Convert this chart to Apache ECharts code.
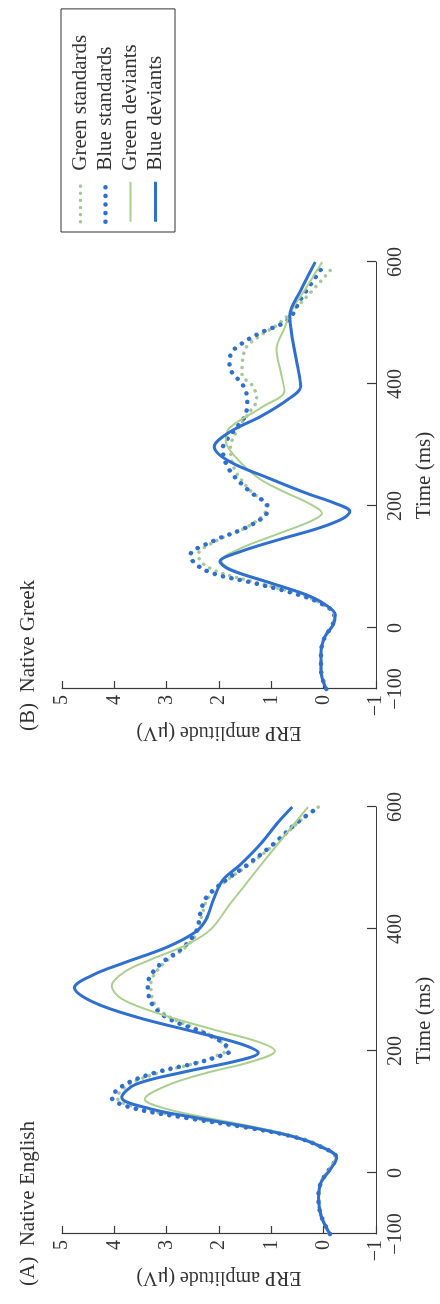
<!DOCTYPE html>
<html lang="en">
<head>
    <meta charset="UTF-8">
    <title>ERP amplitude</title>
    <style>
        * {
            margin: 0;
            padding: 0;
        }

        body {
            width: 440px;
            height: 1304px;
            overflow: hidden;
            background: #fff;
        }

        /* chart drawn landscape, then turned a quarter to the left like the printed page */
        #main {
            position: absolute;
            left: 0;
            top: 0;
            width: 1304px;
            height: 440px;
            transform-origin: 0 0;
            transform: translate(0, 1304px) rotate(-90deg);
        }
    </style>
</head>
<body>
    <div id="main"></div>
</body>
<script src="https://cdn.jsdelivr.net/npm/echarts@6/dist/echarts.min.js"></script>
<script>
    const seriesNames = ['Green standards', 'Blue standards', 'Green deviants', 'Blue deviants'];
    const timeLabels = [-100, 0, 200, 400, 600];
    const timeTicks = [0, 200, 400, 600];

    // (A) Native English, [time ms, amplitude uV]
    const englishGreenStd = [[-100, -0.12], [-70, 0.05], [-40, 0.1], [-15, 0.05], [5, -0.1], [25, -0.24], [45, 0.1], [60, 0.58], [75, 1.45], [90, 2.5], [107, 3.55], [124, 3.95], [145, 3.72], [165, 3.12], [180, 2.45], [192, 2.05], [202, 1.85], [216, 1.98], [232, 2.3], [256, 2.95], [280, 3.25], [310, 3.3], [340, 3.1], [370, 2.64], [397, 2.4], [425, 2.32], [452, 2.2], [480, 1.85], [507, 1.4], [540, 0.92], [575, 0.48], [600, 0.1]];
    const englishBlueStd = [[-100, -0.12], [-70, 0.05], [-40, 0.1], [-15, 0.05], [5, -0.1], [25, -0.24], [45, 0.1], [60, 0.6], [75, 1.5], [90, 2.6], [107, 3.67], [124, 4.05], [145, 3.8], [165, 3.2], [180, 2.45], [190, 2.05], [200, 1.8], [215, 1.95], [230, 2.3], [255, 3.0], [280, 3.3], [310, 3.36], [340, 3.15], [370, 2.68], [397, 2.43], [425, 2.36], [452, 2.24], [480, 1.87], [507, 1.43], [540, 0.95], [575, 0.5], [600, 0.09]];
    const englishGreenDev = [[-100, -0.1], [-70, 0.05], [-40, 0.09], [-15, 0.05], [5, -0.1], [25, -0.22], [45, 0.08], [60, 0.55], [75, 1.3], [90, 2.2], [105, 3.0], [121, 3.42], [145, 2.95], [165, 2.2], [182, 1.4], [200, 0.93], [215, 1.25], [235, 2.1], [260, 3.1], [285, 3.85], [307, 4.05], [330, 3.8], [350, 3.3], [375, 2.6], [400, 2.15], [440, 1.8], [480, 1.43], [520, 1.06], [560, 0.68], [600, 0.3]];
    const englishBlueDev = [[-100, -0.12], [-70, 0.05], [-40, 0.1], [-15, 0.05], [5, -0.12], [25, -0.25], [45, 0.1], [60, 0.6], [75, 1.4], [90, 2.4], [105, 3.3], [124, 3.86], [145, 3.6], [165, 2.7], [185, 1.6], [197, 1.25], [212, 1.6], [230, 2.4], [255, 3.55], [280, 4.4], [304, 4.76], [325, 4.4], [345, 3.8], [370, 3.0], [395, 2.45], [415, 2.25], [450, 2.1], [480, 1.93], [505, 1.6], [540, 1.2], [575, 0.87], [600, 0.6]];

    // (B) Native Greek
    const greekGreenStd = [[-100, -0.05], [-70, 0.05], [-40, 0.05], [-15, -0.02], [5, -0.17], [22, -0.2], [40, 0.05], [55, 0.45], [75, 1.3], [90, 1.95], [105, 2.3], [120, 2.4], [143, 2.05], [164, 1.5], [185, 1.15], [200, 1.1], [225, 1.4], [260, 1.7], [295, 1.78], [325, 1.65], [350, 1.45], [375, 1.28], [396, 1.35], [416, 1.56], [457, 1.5], [480, 1.2], [498, 0.87], [539, 0.37], [590, -0.16]];
    const greekBlueStd = [[-100, -0.05], [-70, 0.05], [-40, 0.05], [-15, -0.02], [5, -0.17], [22, -0.2], [40, 0.05], [55, 0.5], [75, 1.4], [89, 2.1], [105, 2.45], [119, 2.55], [143, 2.1], [164, 1.5], [184, 1.12], [198, 1.07], [225, 1.43], [259, 1.8], [293, 1.93], [321, 1.74], [348, 1.5], [375, 1.46], [396, 1.53], [430, 1.8], [450, 1.77], [470, 1.5], [485, 1.18], [505, 0.68], [539, 0.44], [587, 0.06]];
    const greekGreenDev = [[-100, -0.05], [-70, 0.05], [-40, 0.05], [-15, -0.02], [5, -0.17], [22, -0.2], [40, 0.0], [55, 0.35], [75, 1.05], [96, 1.75], [110, 1.95], [130, 1.6], [155, 0.85], [175, 0.25], [188, 0.03], [205, 0.3], [225, 0.8], [246, 1.25], [280, 1.68], [307, 1.87], [328, 1.8], [362, 1.18], [389, 0.75], [416, 0.81], [457, 0.9], [491, 0.75], [519, 0.62], [553, 0.37], [600, 0.03]];
    const greekBlueDev = [[-100, -0.05], [-70, 0.05], [-40, 0.05], [-15, -0.02], [5, -0.18], [22, -0.22], [40, 0.0], [55, 0.35], [75, 1.06], [96, 1.8], [109, 1.98], [125, 1.6], [145, 0.85], [165, 0.05], [180, -0.38], [191, -0.5], [205, -0.2], [220, 0.3], [246, 1.06], [273, 1.8], [297, 2.09], [321, 1.8], [348, 1.18], [375, 0.68], [396, 0.44], [430, 0.5], [471, 0.59], [512, 0.65], [553, 0.44], [600, 0.16]];

    const blue = '#2f6fcf';
    const green = '#aacf8f';
    const greenDot = '#a6c79a';
    const axisColor = '#3a3a3a';
    const font = 'Liberation Serif';

    const lineStyles = [
        { color: greenDot, width: 3.5, type: [0.1, 7], cap: 'round' },
        { color: blue, width: 4.5, type: [0.1, 8.5], cap: 'round' },
        { color: green, width: 2, type: 'solid' },
        { color: blue, width: 3, type: 'solid' }
    ];

    function makeSeries(list, gridIndex) {
        return list.map((d, i) => {
            return {
                name: seriesNames[i],
                type: 'line',
                xAxisIndex: gridIndex,
                yAxisIndex: gridIndex,
                data: d,
                smooth: 0.35,
                symbol: 'none',
                color: lineStyles[i].color,
                lineStyle: lineStyles[i],
                silent: true
            }
        })
    }

    function timeAxis(gridIndex) {
        return {
            type: 'value',
            gridIndex: gridIndex,
            min: -100,
            max: 600,
            interval: 100,
            name: 'Time (ms)',
            nameLocation: 'middle',
            nameGap: 38,
            nameTextStyle: { fontFamily: font, fontSize: 21, color: '#333' },
            axisLine: { onZero: false, lineStyle: { color: axisColor, width: 1.2 } },
            axisTick: { inside: true, length: 9, customValues: timeTicks, lineStyle: { color: axisColor, width: 1.2 } },
            axisLabel: { customValues: timeLabels, margin: 10, fontFamily: font, fontSize: 20, color: '#333',
                formatter: v => v < 0 ? '\u2212' + Math.abs(v) : v },
            splitLine: { show: false }
        }
    }

    function ampAxis(gridIndex) {
        return {
            type: 'value',
            gridIndex: gridIndex,
            min: -1,
            max: 5,
            interval: 1,
            name: 'ERP amplitude (\u03bcV)',
            nameLocation: 'middle',
            nameRotate: 90,
            nameGap: 33,
            nameTextStyle: { fontFamily: font, fontSize: 20, color: '#333' },
            axisLine: { show: true, onZero: false, lineStyle: { color: axisColor, width: 1.2 } },
            axisTick: { show: true, inside: true, length: 8, lineStyle: { color: axisColor, width: 1.2 } },
            axisLabel: { margin: 6, fontFamily: font, fontSize: 20, color: '#333',
                formatter: v => v < 0 ? '\u2212' + Math.abs(v) : v },
            splitLine: { show: false }
        }
    }

    let option = {
        backgroundColor: '#fff',
        animation: false,
        title: [
            { text: '(A)  Native English', left: 13, top: 13, textStyle: { fontFamily: font, fontSize: 21, fontWeight: 'normal', color: '#333' } },
            { text: '(B)  Native Greek', left: 568, top: 13, textStyle: { fontFamily: font, fontSize: 21, fontWeight: 'normal', color: '#333' } }
        ],
        legend: {
            orient: 'vertical',
            left: 1072,
            top: 61,
            padding: [9, 26, 9, 8],
            itemWidth: 40,
            itemHeight: 14,
            itemGap: 4,
            borderColor: '#333',
            borderWidth: 1,
            selectedMode: false,
            itemStyle: { opacity: 0 },
            textStyle: { fontFamily: font, fontSize: 21, color: '#333', lineHeight: 21, padding: [0, 0, 0, 6] },
            data: seriesNames.map((n, i) => {
                return { name: n, lineStyle: lineStyles[i] }
            })
        },
        grid: [
            { left: 70, top: 62, width: 427, height: 321 },
            { left: 615, top: 62, width: 427, height: 321 }
        ],
        xAxis: [timeAxis(0), timeAxis(1)],
        yAxis: [ampAxis(0), ampAxis(1)],
        series: makeSeries([englishGreenStd, englishBlueStd, englishGreenDev, englishBlueDev], 0)
            .concat(makeSeries([greekGreenStd, greekBlueStd, greekGreenDev, greekBlueDev], 1))
    }

    initChart(option)

    function initChart(option) {
        let myCharts = echarts.init(document.getElementById('main'))
        myCharts.setOption(option)
    }
</script>
</html>
